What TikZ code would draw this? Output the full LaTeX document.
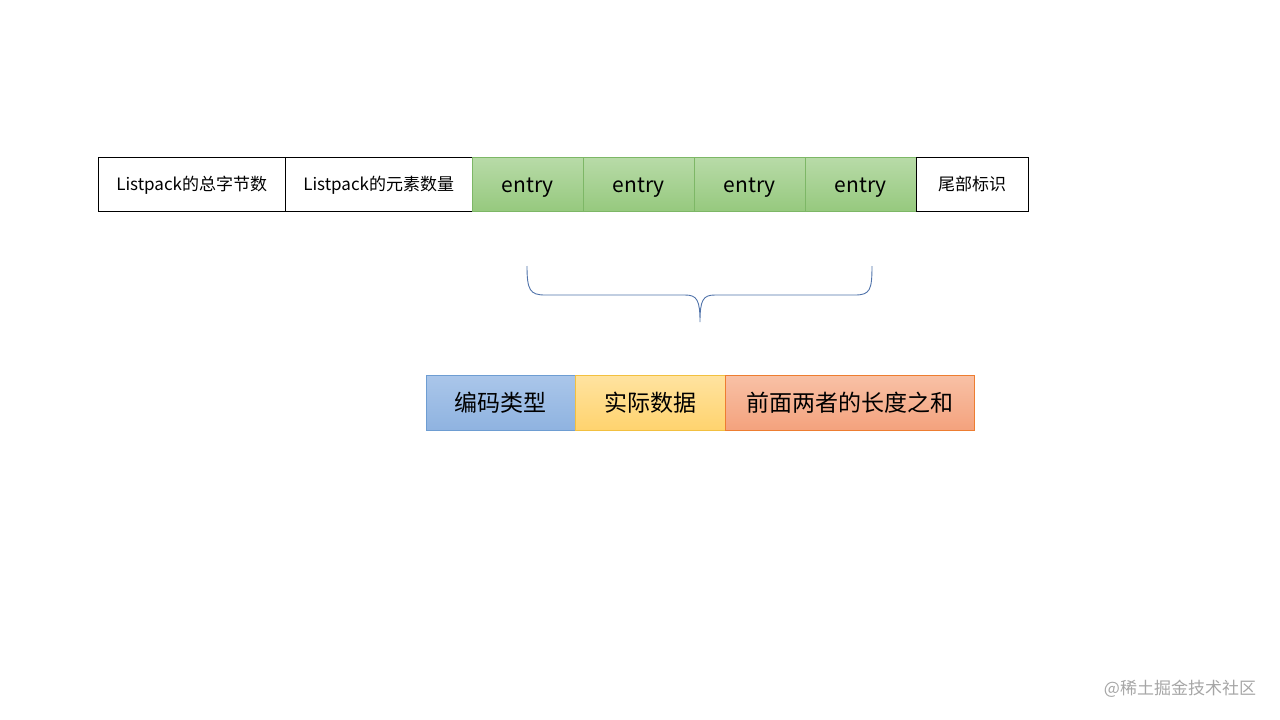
\documentclass[tikz,border=0pt]{standalone}
\usepackage{fontspec}
\setmainfont{Noto Sans CJK SC}
\newcommand{\lowtxt}[2][4pt]{\raisebox{-#1}[0pt][0pt]{#2}}
\begin{document}
\begin{tikzpicture}[x=1pt,y=-1pt,
 cell/.style={draw, thin, minimum height=54pt, inner sep=0pt, anchor=north west, font=\fontsize{17}{17}\selectfont},
 ent/.style={cell, font=\fontsize{21}{21}\selectfont, minimum width=111pt},
 bot/.style={draw, thin, minimum height=55pt, inner sep=0pt, anchor=north west, font=\fontsize{23}{23}\selectfont}]
\useasboundingbox (0,0) rectangle (1280,720);
\definecolor{eT}{HTML}{B8DBA8}\definecolor{eB}{HTML}{96C97E}\definecolor{eD}{HTML}{7DB766}
\node[cell, minimum width=187pt] (a) at (98,157) {\lowtxt[6pt]{Listpack的总字节数}};
\node[cell, minimum width=187pt] (b) at (285,157) {\lowtxt[6pt]{Listpack的元素数量}};
\foreach \i/\x in {1/472,2/583,3/694,4/805}
  \node[ent, draw=eD, top color=eT, bottom color=eB] (e\i) at (\x,157) {\lowtxt[8pt]{entry}};
\node[cell, minimum width=112pt] (t) at (916,157) {\lowtxt[6pt]{尾部标识}};
\draw[color={rgb,255:red,80;green,115;blue,170}, line width=0.9pt]
 (527,266) .. controls (527,290) and (530,295) .. (545,295) -- (685,295)
 .. controls (697,295) and (700,300) .. (700,322)
 .. controls (700,300) and (703,295) .. (715,295) -- (855,295)
 .. controls (870,295) and (872,290) .. (872,266);
\definecolor{bT}{HTML}{AAC6EA}\definecolor{bB}{HTML}{8FB3E0}\definecolor{bD}{HTML}{6E9DD2}
\definecolor{yT}{HTML}{FFE3A0}\definecolor{yB}{HTML}{FFD36E}\definecolor{yD}{HTML}{F2C040}
\definecolor{oT}{HTML}{F8C1A6}\definecolor{oB}{HTML}{F4A27D}\definecolor{oD}{HTML}{ED7D31}
\node[bot, minimum width=149pt, draw=bD, top color=bT, bottom color=bB] (p) at (426,375) {\lowtxt[9pt]{编码类型}};
\node[bot, minimum width=150pt, draw=yD, top color=yT, bottom color=yB] (q) at (575,375) {\lowtxt[9pt]{实际数据}};
\node[bot, minimum width=249pt, draw=oD, top color=oT, bottom color=oB] (r) at (725,375) {\lowtxt[9pt]{前面两者的长度之和}};
\node[text=gray!70, font=\fontsize{17}{17}\selectfont] (w) at (1180,689) {@稀土掘金技术社区};
\end{tikzpicture}
\end{document}
